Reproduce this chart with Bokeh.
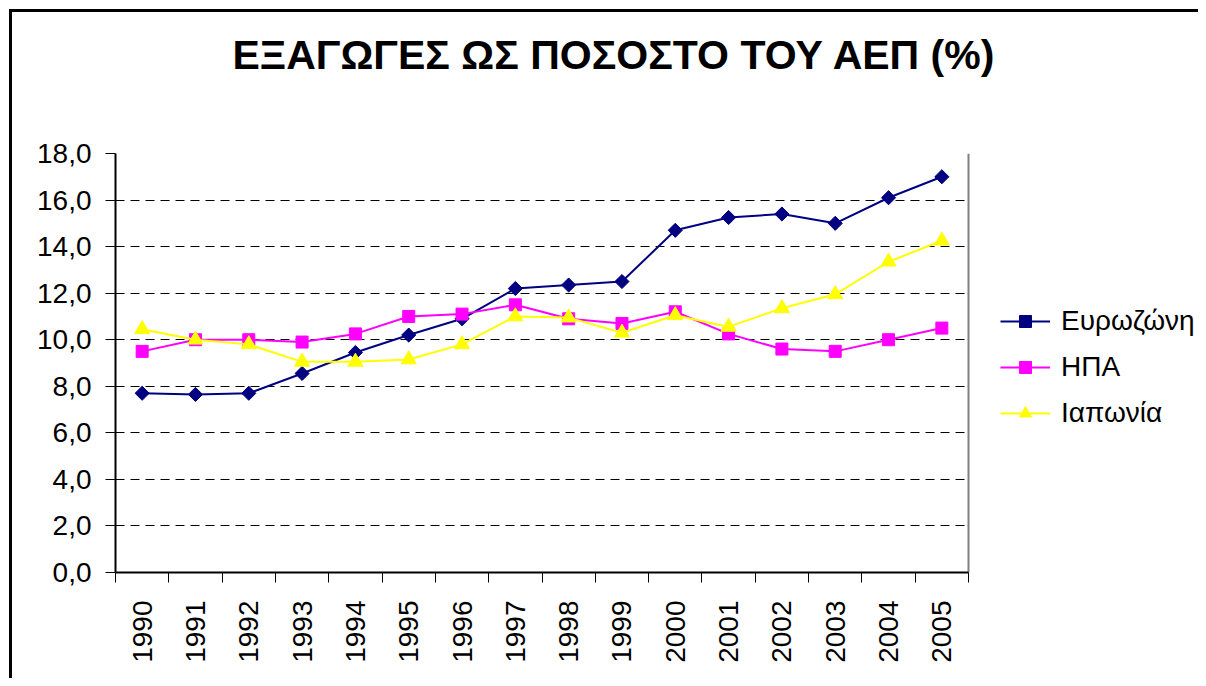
import math
from bokeh.plotting import figure
from bokeh.models import (ColumnDataSource, FixedTicker, CustomJSTickFormatter, Legend, LegendItem,
                          Range1d, Title, Grid)
from bokeh.embed import file_html
from bokeh.resources import INLINE

years = ["1990", "1991", "1992", "1993", "1994", "1995", "1996", "1997",
         "1998", "1999", "2000", "2001", "2002", "2003", "2004", "2005"]
eurozone = [7.7, 7.65, 7.7, 8.55, 9.45, 10.2, 10.9, 12.2, 12.35, 12.5, 14.7, 15.25, 15.4, 15.0, 16.1, 17.0]
usa = [9.5, 10.0, 10.0, 9.9, 10.25, 11.0, 11.1, 11.5, 10.9, 10.7, 11.2, 10.25, 9.6, 9.5, 10.0, 10.5]
japan = [10.45, 10.0, 9.8, 9.05, 9.05, 9.15, 9.8, 11.0, 10.95, 10.3, 11.05, 10.55, 11.35, 11.95, 13.35, 14.25]
series_names = ["Ευρωζώνη", "ΗΠΑ", "Ιαπωνία"]
title_text = "ΕΞΑΓΩΓΕΣ ΩΣ ΠΟΣΟΣΤΟ ΤΟΥ ΑΕΠ (%)"
y_ticks = [0, 2, 4, 6, 8, 10, 12, 14, 16, 18]

FONT = "Liberation Sans"
n = len(years)
y_max = y_ticks[-1]
xs = [i + 0.5 for i in range(n)]
src = ColumnDataSource(dict(x=xs, eu=eurozone, us=usa, jp=japan))

# the frame spans plot area + legend area; the plot area occupies 853 of 1083 px
W_TOTAL, W_PLOT = 1083, 853
p = figure(width=1198, height=678, output_backend="svg", toolbar_location=None, title=None,
           x_range=Range1d(0, n * W_TOTAL / W_PLOT), y_range=Range1d(0, y_max),
           min_border_left=115, min_border_right=0, min_border_top=153, min_border_bottom=106)
p.border_fill_color = None
p.background_fill_color = "white"
p.outline_line_color = None
p.styles = {"background": "linear-gradient(black, black) 9px 9px / 3px calc(100% - 9px) no-repeat, "
                          "linear-gradient(black, black) 9px 9px / calc(100% - 9px) 3px no-repeat, white"}

has_cross = "cross_bounds" in Grid.properties()

# spacer between the frame and the title, then the title itself
p.add_layout(Title(text=" ", text_font_size="1px", standoff=63), "above")
p.add_layout(Title(text=title_text, text_font=FONT, text_font_size="41px", text_font_style="bold",
                   text_color="black", align="left", offset=117, vertical_align="bottom",
                   standoff=20), "above")

# grid
p.xgrid.visible = False
p.ygrid.ticker = FixedTicker(ticks=y_ticks[1:-1])
p.ygrid.grid_line_color = "#000000"
p.ygrid.grid_line_dash = "9 6"
p.ygrid.grid_line_width = 1
if has_cross:
    p.ygrid.cross_bounds = (0, n)
    top_line = Grid(dimension=1, ticker=FixedTicker(ticks=[y_max]), bounds=(0, y_max + 2),
                    cross_bounds=(0, n), grid_line_color="#808080", grid_line_width=2)
    right_line = Grid(dimension=0, ticker=FixedTicker(ticks=[n]), cross_bounds=(0, y_max),
                      grid_line_color="#808080", grid_line_width=2)
    p.add_layout(top_line)
    p.add_layout(right_line)

# x axis
xa = p.xaxis[0]
xa.bounds = (0, n)
xa.ticker = FixedTicker(ticks=xs, minor_ticks=list(range(n + 1)))
xa.major_label_overrides = {x: y for x, y in zip(xs, years)}
xa.major_tick_line_color = None
xa.minor_tick_line_color = "black"
xa.minor_tick_out = 10
xa.minor_tick_in = 0
xa.axis_line_color = "black"
xa.axis_line_width = 2
xa.major_label_orientation = math.pi / 2
xa.major_label_text_font = FONT
xa.major_label_text_font_size = "28px"
xa.major_label_text_color = "black"
xa.major_label_standoff = 18

# y axis
ya = p.yaxis[0]
ya.ticker = FixedTicker(ticks=y_ticks)
ya.formatter = CustomJSTickFormatter(code="return tick.toFixed(1).replace('.', ',');")
ya.major_tick_out = 10
ya.major_tick_in = 0
ya.major_tick_line_color = "black"
ya.minor_tick_line_color = None
ya.axis_line_color = "black"
ya.axis_line_width = 2
ya.major_label_text_font = FONT
ya.major_label_text_font_size = "28px"
ya.major_label_text_color = "black"
ya.major_label_standoff = 14

# series
l1 = p.line("x", "eu", source=src, line_color="#000080", line_width=2)
m1 = p.scatter("x", "eu", source=src, marker="square", angle=math.pi / 4, size=10,
               fill_color="#000080", line_color="#000080")
l2 = p.line("x", "us", source=src, line_color="#FF00FF", line_width=2)
m2 = p.scatter("x", "us", source=src, marker="square", size=12, fill_color="#FF00FF", line_color="#FF00FF")
l3 = p.line("x", "jp", source=src, line_color="#FFFF00", line_width=2)
m3 = p.scatter("x", "jp", source=src, marker="triangle", size=15, fill_color="#FFFF00", line_color="#FFFF00")

legend = Legend(items=[
    LegendItem(label=series_names[0], renderers=[l1, m1]),
    LegendItem(label=series_names[1], renderers=[l2, m2]),
    LegendItem(label=series_names[2], renderers=[l3, m3]),
], location=(885, 136))
legend.border_line_color = None
legend.background_fill_color = None
legend.padding = 0
legend.margin = 0
legend.spacing = 0
legend.glyph_width = 50
legend.glyph_height = 30
legend.label_height = 46
legend.label_standoff = 11
legend.label_text_font = FONT
legend.label_text_font_size = "28px"
legend.label_text_color = "black"
legend.label_text_baseline = "middle"
p.add_layout(legend, "center")

open("out.html", "w").write(file_html(p, INLINE))
